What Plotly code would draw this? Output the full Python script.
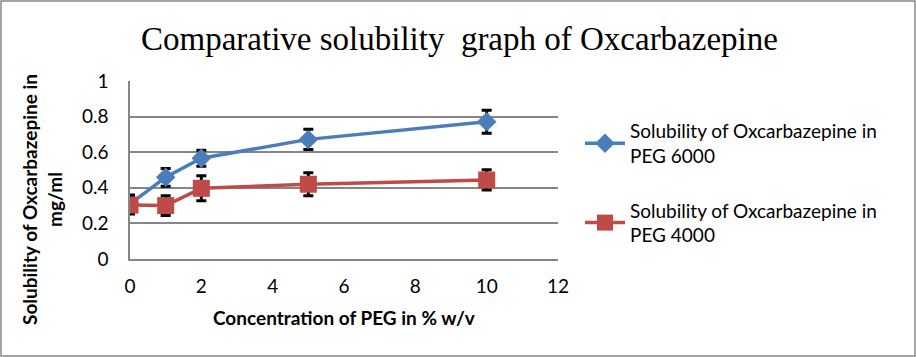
import plotly.graph_objects as go

conc = [0, 1, 2, 5, 10]
peg6000 = [0.31, 0.459, 0.566, 0.672, 0.771]
peg6000_err = [0.05, 0.05, 0.045, 0.057, 0.065]
peg4000 = [0.303, 0.30, 0.397, 0.42, 0.444]
peg4000_err = [0.05, 0.055, 0.07, 0.065, 0.057]

title_text = "Comparative solubility  graph of Oxcarbazepine"
x_title = "Concentration of PEG in % w/v"
y_title = "Solubility of Oxcarbazepine in<br>mg/ml"
name6000 = "Solubility of Oxcarbazepine in<br>PEG 6000"
name4000 = "Solubility of Oxcarbazepine in<br>PEG 4000"

W, H = 916, 357
L, R, T, B = 130, 358, 81, 98
pw, ph = W - L - R, H - T - B

body_font = "Lato, Open Sans, sans-serif"

fig = go.Figure()
fig.add_trace(go.Scatter(
    x=conc, y=peg6000, name=name6000, mode="lines+markers",
    line=dict(color="#4a7ebb", width=3.5),
    marker=dict(symbol="diamond", size=15, color="#4a7ebb"),
    error_y=dict(type="data", array=peg6000_err, color="black", thickness=3, width=5),
    legendgroup="a",
))
fig.add_trace(go.Scatter(
    x=conc, y=peg4000, name=name4000, mode="lines+markers",
    line=dict(color="#be4b48", width=3.5),
    marker=dict(symbol="square", size=17, color="#be4b48"),
    error_y=dict(type="data", array=peg4000_err, color="black", thickness=3, width=5),
    legendgroup="b",
))

fig.update_layout(
    width=W, height=H,
    margin=dict(l=L, r=R, t=T, b=B, autoexpand=False),
    paper_bgcolor="white", plot_bgcolor="white",
    font=dict(family=body_font, size=19, color="black"),
    showlegend=True,
    legend=dict(
        x=(580 - L) / pw, xanchor="left", y=1 - (112 - T) / ph, yanchor="top",
        font=dict(family=body_font, size=19, color="black"),
        tracegroupgap=27, itemwidth=40, bgcolor="rgba(0,0,0,0)",
    ),
    xaxis=dict(
        range=[0, 12], tickvals=[0, 2, 4, 6, 8, 10, 12],
        showgrid=False, showline=True, linecolor="#868686", linewidth=1.5,
        zeroline=False, ticks="outside", ticklen=9, tickcolor="rgba(0,0,0,0)",
        tickfont=dict(size=19), fixedrange=True,
    ),
    yaxis=dict(
        range=[0, 1], tickvals=[0, 0.2, 0.4, 0.6, 0.8, 1],
        ticktext=["0", "0.2", "0.4", "0.6", "0.8", "1"],
        showgrid=True, gridcolor="#868686", gridwidth=1.5,
        showline=True, linecolor="#868686", linewidth=1.5,
        zeroline=False, ticks="outside", ticklen=16, tickcolor="rgba(0,0,0,0)",
        tickfont=dict(size=19), fixedrange=True,
    ),
    annotations=[
        dict(text=title_text, xref="paper", yref="paper",
             x=(459 - L) / pw, y=1 + (T - 39) / ph, xanchor="center", yanchor="middle",
             showarrow=False, font=dict(family="Liberation Serif, serif", size=33, color="black")),
        dict(text="<b>" + x_title + "</b>", xref="paper", yref="paper",
             x=(344 - L) / pw, y=-(317 - T - ph) / ph, xanchor="center", yanchor="middle",
             showarrow=False, font=dict(family=body_font, size=19, color="black")),
        dict(text="<b>" + y_title + "</b>", xref="paper", yref="paper",
             x=-(L - 42) / pw, y=(H - B - 200) / ph, xanchor="center", yanchor="middle",
             textangle=-90, showarrow=False,
             font=dict(family=body_font, size=19, color="black")),
    ],
    shapes=[
        dict(type="rect", xref="paper", yref="paper",
             x0=-(L - 1) / pw, x1=1 + (R - 1) / pw, y0=-(B - 1) / ph, y1=1 + (T - 1) / ph,
             line=dict(color="#868686", width=1.5), fillcolor="rgba(0,0,0,0)", layer="below"),
    ],
)

fig.write_html("out.html", config={"displayModeBar": False},
               post_script="document.body.style.margin='0';document.body.style.padding='0';")
